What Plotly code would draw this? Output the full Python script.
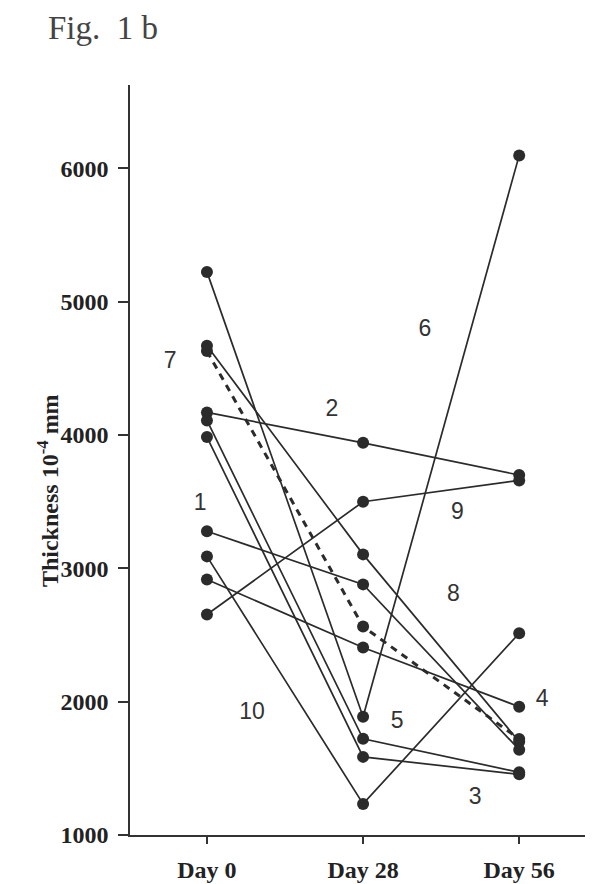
import plotly.graph_objects as go

# ---- data ----
days = [0, 28, 56]
day_labels = ["Day 0", "Day 28", "Day 56"]
y_ticks = [1000, 2000, 3000, 4000, 5000, 6000]

day0 = [5224, 4670, 4630, 4170, 4110, 3985, 3278, 3090, 2917, 2654]
day28 = [1887, 3105, 2564, 3942, 1722, 1586, 2880, 1233, 2406, 3500]
day56 = [6098, 1700, 1720, 3700, 1470, 1455, 1640, 2513, 1962, 3660]
dashed = [False, False, True, False, False, False, False, False, False, False]

label_text = ["7", "1", "2", "6", "9", "8", "4", "5", "3", "10"]
label_day = [-6.6, -1.2, 22.4, 39.1, 44.9, 44.2, 60.1, 34.1, 48.1, 8.1]
label_val = [4548, 3480, 4188, 4788, 3415, 2800, 2013, 1848, 1278, 1915]

INK = "#2b2b2b"

# page body has an 8px margin, so the figure is sized/offset to compensate
W, H = 594, 876
L, R, T, B = 122, 17, 77, 49
PW, PH = W - L - R, H - T - B

fig = go.Figure()
for i in range(len(day0)):
    vals = [day0[i], day28[i], day56[i]]
    if dashed[i]:
        fig.add_trace(go.Scatter(x=days, y=vals, mode="lines",
                                 line=dict(color=INK, width=3, dash="7px,6px"),
                                 showlegend=False, hoverinfo="skip"))
        fig.add_trace(go.Scatter(x=days, y=vals, mode="markers",
                                 marker=dict(color=INK, size=12),
                                 showlegend=False))
    else:
        fig.add_trace(go.Scatter(x=days, y=vals, mode="lines+markers",
                                 line=dict(color=INK, width=1.7),
                                 marker=dict(color=INK, size=12),
                                 showlegend=False))

fig.add_trace(go.Scatter(x=label_day, y=label_val, mode="text", text=label_text,
                         textfont=dict(family="Liberation Sans", size=23, color="#333"),
                         showlegend=False, hoverinfo="skip"))

fig.update_layout(
    width=W, height=H,
    margin=dict(l=L, r=R, t=T, b=B, autoexpand=False),
    paper_bgcolor="white", plot_bgcolor="white",
    showlegend=False,
    xaxis=dict(range=[-13.8, 67.8], tickvals=days,
               ticktext=["<b>%s</b>" % t for t in day_labels],
               automargin=False,
               showgrid=False, zeroline=False, showline=True, linecolor="#333",
               linewidth=1.6, ticks="outside", ticklen=7, tickcolor="#333",
               tickwidth=1.5,
               tickfont=dict(family="Liberation Serif", size=24, color="#222"),
               ticklabelstandoff=5),
    yaxis=dict(range=[1000, 6626], tickvals=y_ticks,
               ticktext=["<b>%d</b>" % v for v in y_ticks],
               automargin=False,
               showgrid=False, zeroline=False, showline=True, linecolor="#333",
               linewidth=1.6, ticks="outside", ticklen=10, tickcolor="#333",
               tickwidth=1.5,
               tickfont=dict(family="Liberation Serif", size=24, color="#222"),
               ticklabelstandoff=5),
    annotations=[
        dict(text="Fig.\u00a0\u00a01\u00a0b", xref="paper", yref="paper",
             x=(38 - L) / PW, y=1 + T / PH, xanchor="left", yanchor="top",
             yshift=0, showarrow=False,
             font=dict(family="Liberation Serif", size=33, color="#444")),
        dict(text="<b>Thickness 10<sup>-4</sup> mm</b>", xref="paper", yref="y",
             x=0, y=3580, xanchor="center", yanchor="middle", xshift=-82,
             textangle=-90, showarrow=False,
             font=dict(family="Liberation Serif", size=24, color="#222")),
    ],
)

fig.write_html("out.html")
